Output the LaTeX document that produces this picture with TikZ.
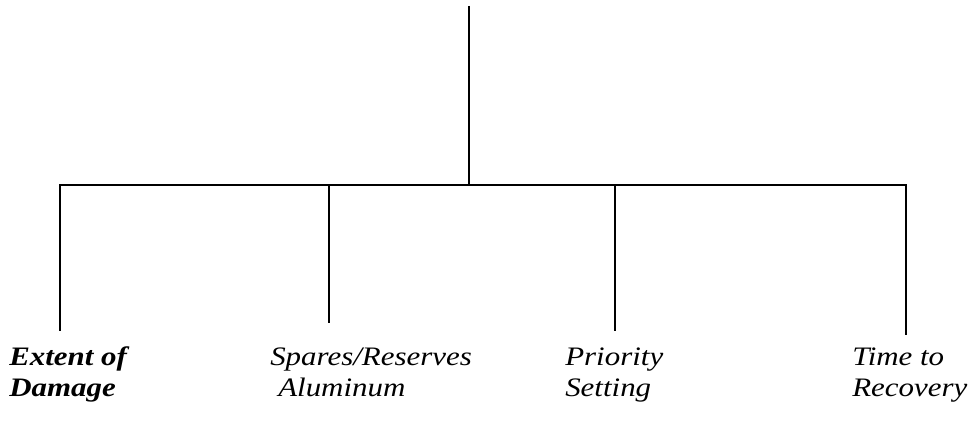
\documentclass[tikz,border=0pt]{standalone}
\usepackage{fontspec}
\setmainfont{Liberation Serif}[FakeStretch=1.16]
\begin{document}
\begin{tikzpicture}[x=0.75pt,y=-0.75pt]
  \tikzstyle{every node}+=[inner sep=0pt]
  \tikzstyle{branch}=[black, line width=1.4pt]
  \tikzstyle{leaf}=[anchor=base west, align=left, font=\itshape\fontsize{20}{22.5}\selectfont]
  \useasboundingbox (0,0) rectangle (973,423);
  \coordinate (top) at (469,6);
  \coordinate (hub) at (469,185);
  \coordinate (bl) at (60,185);
  \coordinate (br) at (906,185);
  \coordinate (dmg) at (60,331);
  \coordinate (spr) at (329,185);
  \coordinate (spr end) at (329,323);
  \coordinate (pri) at (615,185);
  \coordinate (pri end) at (615,331);
  \coordinate (rec) at (906,335);
  \draw [branch] (top) -- (hub);
  \draw [branch] (dmg) -- (bl) -- (br) -- (rec);
  \draw [branch] (spr) -- (spr end);
  \draw [branch] (pri) -- (pri end);
  % base anchor sits on the last line
  \node [leaf] (damage) at (9,396) {\textbf{Extent of}\\\textbf{Damage}};
  \node [leaf] (spares) at (270,396) {Spares/Reserves\\\hspace*{0.3em}Aluminum};
  \node [leaf] (priority) at (565,396) {Priority\\Setting};
  \node [leaf] (recovery) at (852,396) {Time to\\Recovery};
\end{tikzpicture}
\end{document}
